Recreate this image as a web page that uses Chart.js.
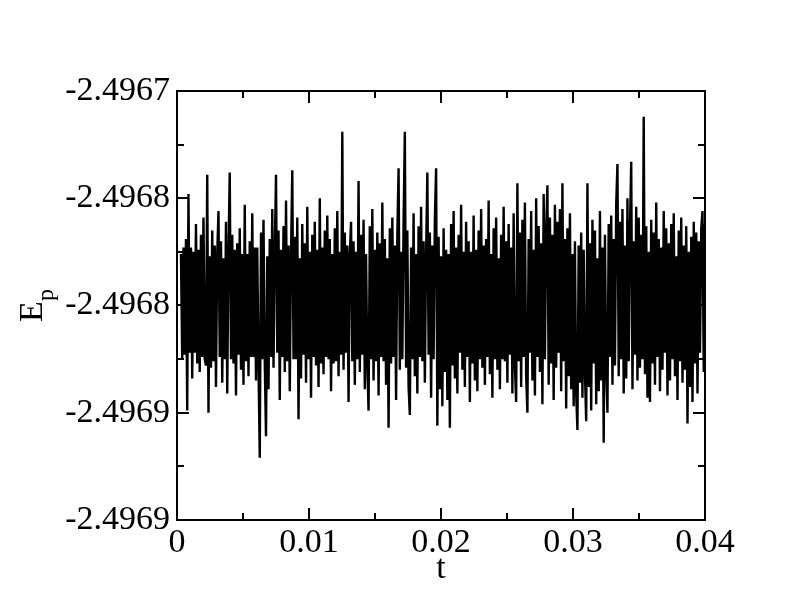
<!DOCTYPE html>
<html>
<head>
<meta charset="utf-8">
<script src="https://cdn.jsdelivr.net/npm/chart.js@4.4.1/dist/chart.umd.min.js"></script>
<style>
  html, body { margin: 0; padding: 0; background: #ffffff; }
  #wrap { width: 792px; height: 612px; }
</style>
</head>
<body>
<div id="wrap"><canvas id="c" width="792" height="612"></canvas></div>
<script>
// ---- data ----
const T_START = 0.0003;
const T_END = 0.04;
const E_P = [
-2.496776,-2.496825,-2.496773,-2.496823,-2.496769,-2.496849,-2.496748,-2.496822,-2.496773,-2.496834,-2.496775,-2.496822,-2.496762,-2.496827,-2.496774,-2.496831,-2.496767,-2.496824,-2.496759,-2.496825,
-2.496828,-2.496739,-2.496850,-2.496777,-2.496829,-2.496765,-2.496826,-2.496772,-2.496838,-2.496776,-2.496756,-2.496824,-2.496770,-2.496836,-2.496778,-2.496825,-2.496761,-2.496841,-2.496774,-2.496738,
-2.496825,-2.496767,-2.496827,-2.496774,-2.496842,-2.496771,-2.496823,-2.496764,-2.496830,-2.496776,-2.496837,-2.496753,-2.496826,-2.496776,-2.496833,-2.496770,-2.496824,-2.496757,-2.496824,-2.496773,
-2.496835,-2.496773,-2.496828,-2.496871,-2.496766,-2.496825,-2.496760,-2.496826,-2.496861,-2.496777,-2.496839,-2.496769,-2.496824,-2.496755,-2.496829,-2.496775,-2.496739,-2.496822,-2.496765,-2.496844,
-2.496774,-2.496824,-2.496763,-2.496831,-2.496751,-2.496826,-2.496772,-2.496840,-2.496776,-2.496737,-2.496825,-2.496768,-2.496825,-2.496759,-2.496853,-2.496778,-2.496834,-2.496762,-2.496823,-2.496771,
-2.496836,-2.496754,-2.496825,-2.496775,-2.496843,-2.496767,-2.496824,-2.496761,-2.496828,-2.496774,-2.496838,-2.496750,-2.496827,-2.496773,-2.496832,-2.496765,-2.496824,-2.496758,-2.496825,-2.496769,
-2.496840,-2.496776,-2.496827,-2.496764,-2.496826,-2.496756,-2.496833,-2.496775,-2.496823,-2.496719,-2.496830,-2.496766,-2.496822,-2.496772,-2.496845,-2.496776,-2.496761,-2.496826,-2.496770,-2.496837,
-2.496775,-2.496825,-2.496742,-2.496831,-2.496767,-2.496823,-2.496760,-2.496839,-2.496776,-2.496828,-2.496849,-2.496763,-2.496825,-2.496755,-2.496835,-2.496774,-2.496826,-2.496766,-2.496842,-2.496771,
-2.496824,-2.496752,-2.496826,-2.496769,-2.496837,-2.496778,-2.496857,-2.496764,-2.496827,-2.496759,-2.496824,-2.496772,-2.496844,-2.496767,-2.496736,-2.496830,-2.496775,-2.496825,-2.496761,-2.496719,
-2.496829,-2.496765,-2.496838,-2.496851,-2.496773,-2.496825,-2.496757,-2.496833,-2.496776,-2.496841,-2.496763,-2.496824,-2.496754,-2.496826,-2.496770,-2.496836,-2.496776,-2.496738,-2.496823,-2.496766,
-2.496843,-2.496772,-2.496825,-2.496760,-2.496736,-2.496856,-2.496768,-2.496839,-2.496777,-2.496847,-2.496764,-2.496831,-2.496774,-2.496844,-2.496776,-2.496857,-2.496762,-2.496828,-2.496756,-2.496834,
-2.496773,-2.496841,-2.496767,-2.496822,-2.496753,-2.496830,-2.496775,-2.496838,-2.496761,-2.496824,-2.496770,-2.496845,-2.496775,-2.496827,-2.496758,-2.496835,-2.496774,-2.496840,-2.496765,-2.496825,
-2.496755,-2.496829,-2.496772,-2.496837,-2.496769,-2.496824,-2.496751,-2.496832,-2.496776,-2.496843,-2.496764,-2.496825,-2.496759,-2.496830,-2.496778,-2.496839,-2.496767,-2.496825,-2.496754,-2.496826,
-2.496770,-2.496836,-2.496762,-2.496823,-2.496773,-2.496841,-2.496757,-2.496828,-2.496845,-2.496743,-2.496826,-2.496766,-2.496838,-2.496760,-2.496824,-2.496752,-2.496833,-2.496850,-2.496769,-2.496822,
-2.496756,-2.496835,-2.496774,-2.496842,-2.496750,-2.496824,-2.496763,-2.496831,-2.496771,-2.496846,-2.496748,-2.496825,-2.496765,-2.496744,-2.496837,-2.496759,-2.496827,-2.496767,-2.496844,-2.496753,
-2.496829,-2.496761,-2.496822,-2.496755,-2.496840,-2.496743,-2.496826,-2.496769,-2.496848,-2.496764,-2.496833,-2.496757,-2.496839,-2.496776,-2.496847,-2.496770,-2.496841,-2.496858,-2.496772,-2.496836,
-2.496766,-2.496843,-2.496774,-2.496831,-2.496854,-2.496743,-2.496838,-2.496771,-2.496849,-2.496760,-2.496827,-2.496765,-2.496846,-2.496778,-2.496840,-2.496756,-2.496835,-2.496773,-2.496864,-2.496767,
-2.496830,-2.496850,-2.496762,-2.496824,-2.496758,-2.496837,-2.496769,-2.496828,-2.496753,-2.496734,-2.496833,-2.496761,-2.496825,-2.496755,-2.496841,-2.496772,-2.496834,-2.496750,-2.496826,-2.496764,
-2.496733,-2.496839,-2.496770,-2.496823,-2.496754,-2.496835,-2.496759,-2.496829,-2.496767,-2.496825,-2.496712,-2.496832,-2.496763,-2.496843,-2.496775,-2.496845,-2.496760,-2.496827,-2.496766,-2.496837,
-2.496752,-2.496824,-2.496769,-2.496840,-2.496773,-2.496830,-2.496756,-2.496822,-2.496764,-2.496842,-2.496771,-2.496835,-2.496762,-2.496825,-2.496757,-2.496833,-2.496777,-2.496844,-2.496765,-2.496826,
-2.496759,-2.496836,-2.496772,-2.496830,-2.496763,-2.496855,-2.496775,-2.496838,-2.496768,-2.496845,-2.496761,-2.496827,-2.496766,-2.496841,-2.496770,-2.496822,-2.496764,-2.496756,-2.496831,-2.496762
];
const X_TICK_VALUES = [0, 0.01, 0.02, 0.03, 0.04];
const X_TICK_LABELS = ['0', '0.01', '0.02', '0.03', '0.04'];
const Y_TICK_VALUES = [-2.4969, -2.49685, -2.4968, -2.49675, -2.4967];
const Y_TICK_LABELS = ['-2.4969', '-2.4969', '-2.4968', '-2.4968', '-2.4967'];
const X_TITLE = 't';
const Y_TITLE_MAIN = 'E';
const Y_TITLE_SUB = 'p';

// ---- build points (uniform sampling in time) ----
const step = (T_END - T_START) / (E_P.length - 1);
const points = E_P.map((e, i) => ({ x: T_START + i * step, y: e }));

const FONT = '"Liberation Serif", "Times New Roman", serif';

const framePlugin = {
  id: 'frame',
  afterDatasetsDraw(chart) {
    const { ctx, chartArea: a, scales } = chart;
    const xs = scales.x, ys = scales.y;
    ctx.save();
    ctx.strokeStyle = '#000';
    ctx.lineWidth = 2;
    ctx.lineCap = 'butt';
    ctx.strokeRect(a.left, a.top, a.right - a.left, a.bottom - a.top);
    const MAJ = 12, MIN = 7;
    ctx.beginPath();
    X_TICK_VALUES.forEach((v, i) => {
      const px = Math.round(xs.getPixelForValue(v));
      ctx.moveTo(px, a.bottom); ctx.lineTo(px, a.bottom - MAJ);
      ctx.moveTo(px, a.top); ctx.lineTo(px, a.top + MAJ);
      if (i < X_TICK_VALUES.length - 1) {
        const mx = Math.round(xs.getPixelForValue((v + X_TICK_VALUES[i + 1]) / 2));
        ctx.moveTo(mx, a.bottom); ctx.lineTo(mx, a.bottom - MIN);
        ctx.moveTo(mx, a.top); ctx.lineTo(mx, a.top + MIN);
      }
    });
    Y_TICK_VALUES.forEach((v, i) => {
      const py = Math.round(ys.getPixelForValue(v));
      ctx.moveTo(a.left, py); ctx.lineTo(a.left + MAJ, py);
      ctx.moveTo(a.right, py); ctx.lineTo(a.right - MAJ, py);
      if (i < Y_TICK_VALUES.length - 1) {
        const my = Math.round(ys.getPixelForValue((v + Y_TICK_VALUES[i + 1]) / 2));
        ctx.moveTo(a.left, my); ctx.lineTo(a.left + MIN, my);
        ctx.moveTo(a.right, my); ctx.lineTo(a.right - MIN, my);
      }
    });
    ctx.stroke();

    // axis titles
    ctx.fillStyle = '#000';
    ctx.textBaseline = 'alphabetic';
    ctx.font = '34px ' + FONT;
    ctx.textAlign = 'center';
    ctx.fillText(X_TITLE, (a.left + a.right) / 2, 578);

    ctx.save();
    ctx.translate(42, (a.top + a.bottom) / 2);
    ctx.rotate(-Math.PI / 2);
    ctx.textAlign = 'left';
    ctx.font = '34px ' + FONT;
    const w1 = ctx.measureText(Y_TITLE_MAIN).width;
    ctx.font = '24px ' + FONT;
    const w2 = ctx.measureText(Y_TITLE_SUB).width;
    const start = -(w1 + w2) / 2;
    ctx.font = '34px ' + FONT;
    ctx.fillText(Y_TITLE_MAIN, start, 0);
    ctx.font = '24px ' + FONT;
    ctx.fillText(Y_TITLE_SUB, start + w1, 11);
    ctx.restore();
    ctx.restore();
  }
};

new Chart(document.getElementById('c'), {
  type: 'line',
  data: {
    datasets: [{
      data: points,
      borderColor: '#000000',
      borderWidth: 2.4,
      pointRadius: 0,
      fill: false,
      tension: 0
    }]
  },
  options: {
    responsive: false,
    animation: false,
    events: [],
    layout: { padding: { top: 91, right: 87, left: 0, bottom: 0 } },
    plugins: { legend: { display: false }, tooltip: { enabled: false } },
    scales: {
      x: {
        type: 'linear',
        min: 0,
        max: 0.04,
        afterBuildTicks(s) { s.ticks = X_TICK_VALUES.map(v => ({ value: v })); },
        afterFit(s) { s.height = 92; },
        grid: { display: false, drawTicks: false },
        border: { display: false },
        ticks: {
          autoSkip: false,
          maxRotation: 0,
          padding: 3,
          color: '#000',
          font: { family: FONT, size: 34 },
          callback: (v, i) => X_TICK_LABELS[i]
        }
      },
      y: {
        type: 'linear',
        min: -2.4969,
        max: -2.4967,
        afterBuildTicks(s) { s.ticks = Y_TICK_VALUES.map(v => ({ value: v })); },
        afterFit(s) { s.width = 177; },
        grid: { display: false, drawTicks: false },
        border: { display: false },
        ticks: {
          autoSkip: false,
          padding: 7,
          color: '#000',
          font: { family: FONT, size: 34 },
          callback: (v, i) => Y_TICK_LABELS[i]
        }
      }
    }
  },
  plugins: [framePlugin]
});
</script>
</body>
</html>
